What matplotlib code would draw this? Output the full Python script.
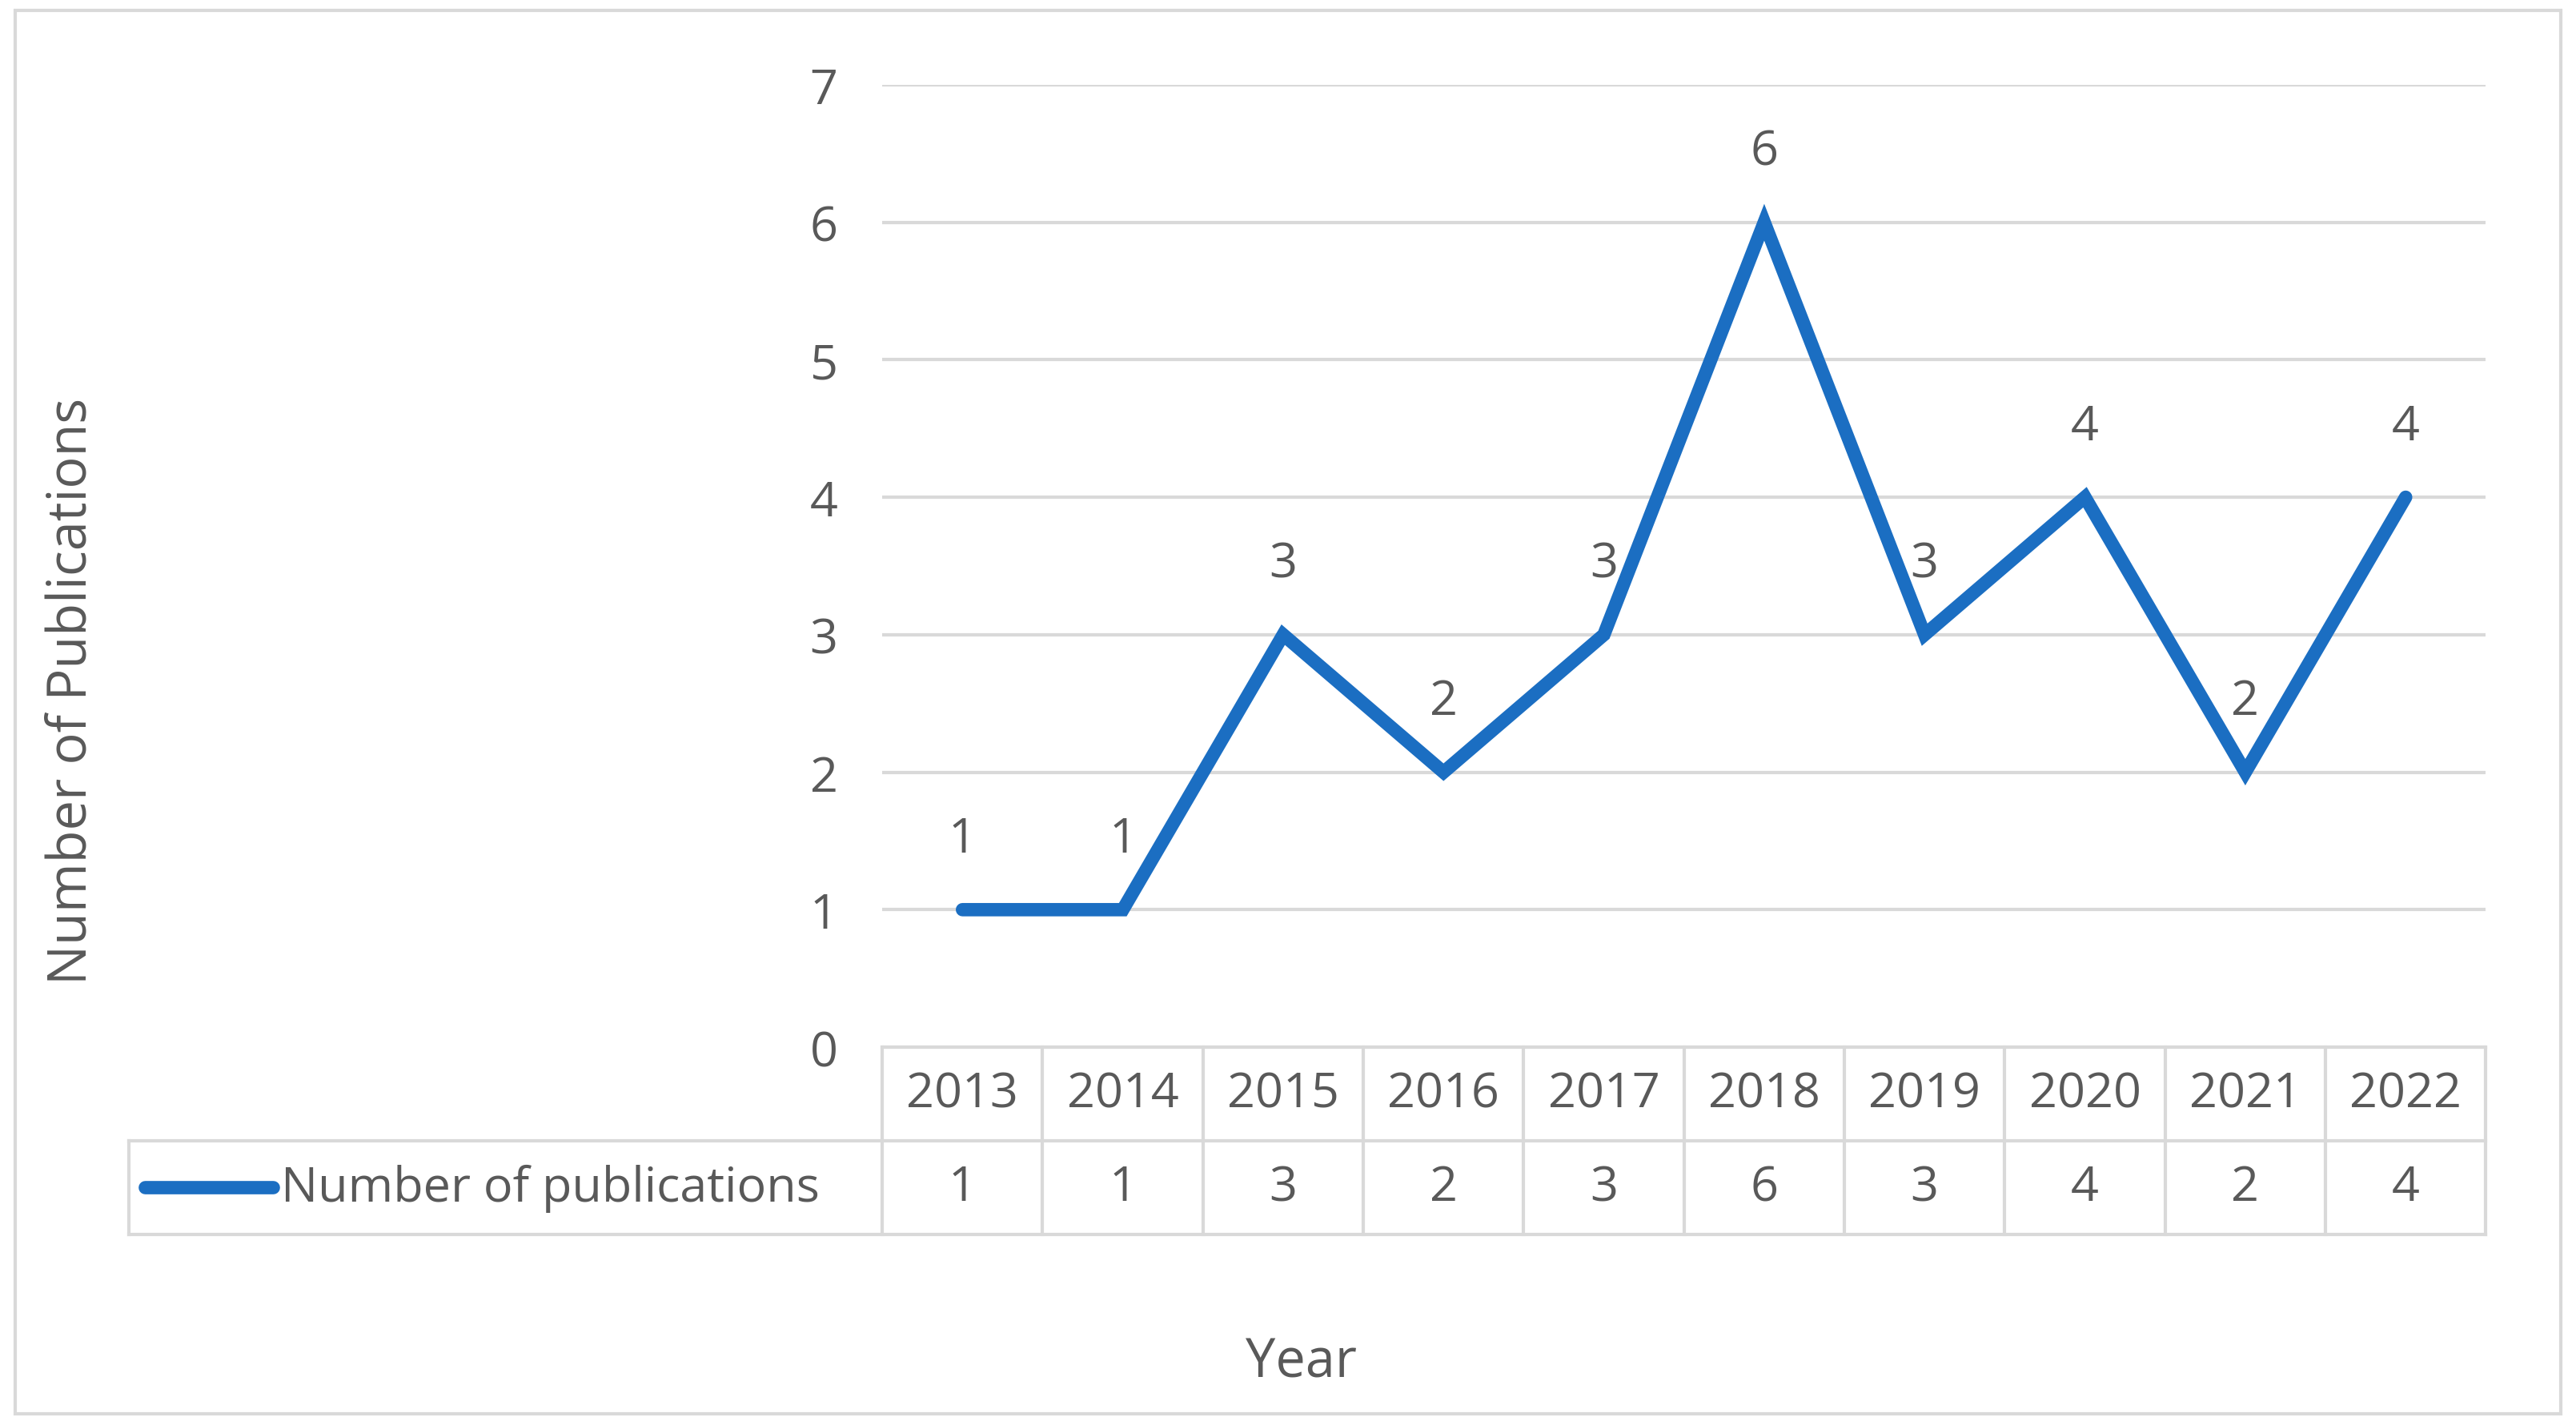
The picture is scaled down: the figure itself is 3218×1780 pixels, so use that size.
import matplotlib
matplotlib.use("Agg")
import matplotlib.pyplot as plt
from matplotlib.transforms import blended_transform_factory
from matplotlib.patches import Rectangle

years = ["2013","2014","2015","2016","2017","2018","2019","2020","2021","2022"]
counts = [1,1,3,2,3,6,3,4,2,4]
series_name = "Number of publications"

TXT = "#595959"; GRID = "#d9d9d9"; BLUE = "#1b6ec2"
plt.rcParams['font.family'] = ['Open Sans', 'DejaVu Sans']
FS = 44

fig = plt.figure(figsize=(32.18, 17.81), dpi=100)
fig.patches.append(Rectangle((0.006, 0.008), 0.988, 0.984, transform=fig.transFigure,
                             fill=False, edgecolor=GRID, linewidth=3))
ax = fig.add_axes([0.3425, 0.265, 0.6225, 0.675])
x = list(range(len(years)))
ax.plot(x, counts, color=BLUE, linewidth=12, solid_capstyle='round', solid_joinstyle='miter')
for xi, v in zip(x, counts):
    ax.annotate(str(v), (xi, v), xytext=(0, 42), textcoords='offset points',
                ha='center', va='bottom', fontsize=FS, color=TXT)
ax.set_xlim(-0.5, len(years) - 0.5)
ax.set_ylim(0, 7)
ax.set_yticks(range(8))
ax.yaxis.grid(True, color=GRID, linewidth=3)
ax.set_axisbelow(True)
ax.set_xticks([])
for s in ax.spines.values():
    s.set_visible(False)
ax.tick_params(axis='y', length=0, labelsize=FS, labelcolor=TXT, pad=40)

tr = blended_transform_factory(ax.transData, ax.transAxes)
rh = 0.0973
left = -5.2
kw = dict(color=GRID, linewidth=3, transform=tr, clip_on=False)
ax.plot([-0.5, 9.5], [0, 0], **kw)
ax.plot([left, 9.5], [-rh, -rh], **kw)
ax.plot([left, 9.5], [-2*rh, -2*rh], **kw)
ax.plot([left, left], [-rh, -2*rh], **kw)
for i in range(11):
    ax.plot([i - 0.5, i - 0.5], [0, -2*rh], **kw)
for xi, y, v in zip(x, years, counts):
    ax.text(xi, -rh/2, y, ha='center', va='center', fontsize=FS, color=TXT, transform=tr)
    ax.text(xi, -1.5*rh, str(v), ha='center', va='center', fontsize=FS, color=TXT, transform=tr)
ax.plot([left + 0.1, left + 0.9], [-1.5*rh, -1.5*rh], color=BLUE, linewidth=12,
        solid_capstyle='round', transform=tr, clip_on=False)
ax.text(left + 0.95, -1.5*rh, series_name, ha='left', va='center', fontsize=FS, color=TXT, transform=tr)

fig.text(0.505, 0.025, "Year", ha='center', va='bottom', fontsize=48, color=TXT)
fig.text(0.028, 0.515, "Number of Publications", ha='center', va='center', rotation=90, fontsize=48, color=TXT)

fig.savefig("out.png", dpi=100)
